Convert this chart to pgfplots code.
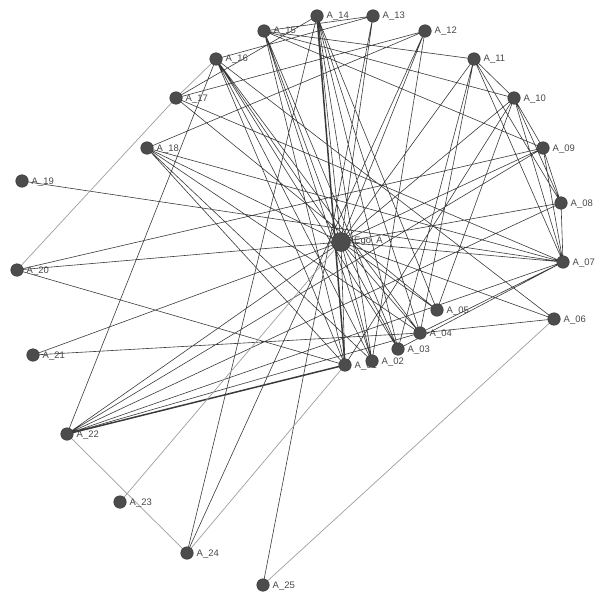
\documentclass[border=0pt]{standalone}
\usepackage{fontspec}
\setmainfont{Liberation Sans}
\usepackage{pgfplots}
\pgfplotsset{compat=1.18}
\definecolor{edge}{HTML}{3A3A3A}
\definecolor{edgelight}{HTML}{9E9E9E}
\definecolor{nodefill}{HTML}{4C4C4C}
\definecolor{labelc}{HTML}{474747}
\begin{document}
\begin{tikzpicture}
\begin{axis}[
  width=598bp, height=593bp, scale only axis,
  xmin=0, xmax=598, ymin=0, ymax=593, y dir=reverse,
  hide axis, clip=false,
  unbounded coords=jump,
]
% invisible frame that keeps the picture's full extent
\addplot[draw=none, forget plot] coordinates {(0,0) (598,0) (598,593) (0,593) (0,0)};
% ordinary ties
\addplot[edge, line width=0.6bp] coordinates {
(341,242) (345,365) (nan,nan)
(341,242) (372,361) (nan,nan)
(341,242) (398,349) (nan,nan)
(341,242) (420,333) (nan,nan)
(341,242) (437,310) (nan,nan)
(341,242) (554,319) (nan,nan)
(341,242) (563,262) (nan,nan)
(341,242) (561,203) (nan,nan)
(341,242) (543,148) (nan,nan)
(341,242) (514,98) (nan,nan)
(341,242) (474,59) (nan,nan)
(341,242) (425,31) (nan,nan)
(341,242) (373,16) (nan,nan)
(341,242) (317,16) (nan,nan)
(341,242) (264,31) (nan,nan)
(341,242) (216,59) (nan,nan)
(341,242) (147,148) (nan,nan)
(341,242) (17,270) (nan,nan)
(341,242) (33,355) (nan,nan)
(341,242) (67,434) (nan,nan)
(216,59) (345,365) (nan,nan)
(216,59) (372,361) (nan,nan)
(216,59) (398,349) (nan,nan)
(216,59) (420,333) (nan,nan)
(216,59) (373,16) (nan,nan)
(216,59) (67,434) (nan,nan)
(216,59) (554,319) (nan,nan)
(264,31) (345,365) (nan,nan)
(264,31) (372,361) (nan,nan)
(264,31) (398,349) (nan,nan)
(264,31) (474,59) (nan,nan)
(264,31) (514,98) (nan,nan)
(264,31) (373,16) (nan,nan)
(264,31) (543,148) (nan,nan)
(317,16) (372,361) (nan,nan)
(317,16) (398,349) (nan,nan)
(317,16) (420,333) (nan,nan)
(317,16) (437,310) (nan,nan)
(317,16) (187,553) (nan,nan)
(317,16) (176,98) (nan,nan)
(373,16) (263,585) (nan,nan)
(425,31) (372,361) (nan,nan)
(425,31) (147,148) (nan,nan)
(425,31) (176,98) (nan,nan)
(425,31) (187,553) (nan,nan)
(474,59) (398,349) (nan,nan)
(474,59) (420,333) (nan,nan)
(474,59) (514,98) (nan,nan)
(474,59) (561,203) (nan,nan)
(474,59) (563,262) (nan,nan)
(514,98) (543,148) (nan,nan)
(514,98) (561,203) (nan,nan)
(514,98) (563,262) (nan,nan)
(514,98) (437,310) (nan,nan)
(514,98) (345,365) (nan,nan)
(543,148) (561,203) (nan,nan)
(543,148) (563,262) (nan,nan)
(543,148) (17,270) (nan,nan)
(543,148) (67,434) (nan,nan)
(561,203) (563,262) (nan,nan)
(561,203) (67,434) (nan,nan)
(563,262) (420,333) (nan,nan)
(563,262) (398,349) (nan,nan)
(563,262) (22,181) (nan,nan)
(563,262) (147,148) (nan,nan)
(563,262) (176,98) (nan,nan)
(563,262) (67,434) (nan,nan)
(554,319) (420,333) (nan,nan)
(437,310) (176,98) (nan,nan)
(420,333) (33,355) (nan,nan)
(420,333) (67,434) (nan,nan)
(420,333) (147,148) (nan,nan)
(345,365) (17,270) (nan,nan)
(345,365) (147,148) (nan,nan)
(372,361) (147,148) (nan,nan)
};
% strong ties
\addplot[edge, line width=1.5bp] coordinates {
(317,16) (345,365) (nan,nan)
(67,434) (345,365) (nan,nan)
};
% weak ties
\addplot[edgelight, line width=0.7bp] coordinates {
(341,242) (120,502) (nan,nan)
(216,59) (176,98) (nan,nan)
(176,98) (17,270) (nan,nan)
(67,434) (187,553) (nan,nan)
(187,553) (345,365) (nan,nan)
(263,585) (554,319) (nan,nan)
};
% alters
\addplot[only marks, mark=*, mark size=6.3bp,
  mark options={fill=nodefill, draw=nodefill!75!black, line width=0.4bp},
  nodes near coords, point meta=explicit symbolic,
  nodes near coords style={anchor=base west, inner sep=0pt, xshift=9.5bp, yshift=-3bp,
    text=labelc, font=\fontsize{9.5}{10}\selectfont}]
table[meta=label] {
x y label
345 365 A\_01
372 361 A\_02
398 349 A\_03
420 333 A\_04
437 310 A\_05
554 319 A\_06
563 262 A\_07
561 203 A\_08
543 148 A\_09
514 98 A\_10
474 59 A\_11
425 31 A\_12
373 16 A\_13
317 16 A\_14
264 31 A\_15
216 59 A\_16
176 98 A\_17
147 148 A\_18
22 181 A\_19
17 270 A\_20
33 355 A\_21
67 434 A\_22
120 502 A\_23
187 553 A\_24
263 585 A\_25
};
% ego
\addplot[only marks, mark=*, mark size=9.5bp,
  mark options={fill=nodefill, draw=nodefill!75!black, line width=0.4bp},
  nodes near coords, point meta=explicit symbolic,
  nodes near coords style={anchor=base west, inner sep=0pt, xshift=13bp, yshift=-1bp,
    text=labelc, font=\fontsize{9.5}{10}\selectfont}]
table[meta=label] {
x y label
341 242 Ego\_A
};
\end{axis}
\end{tikzpicture}
\end{document}
